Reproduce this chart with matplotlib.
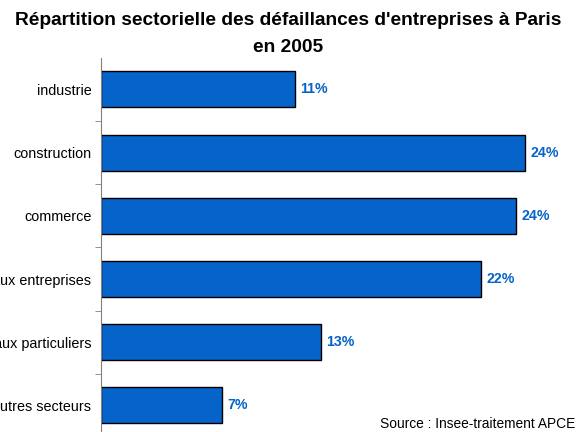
import numpy as np
import matplotlib.pyplot as plt
from matplotlib.ticker import FixedLocator

plt.rcParams['font.family'] = ['Liberation Sans', 'DejaVu Sans']

secteurs = ["industrie", "construction", "commerce", "services aux entreprises",
            "services aux particuliers", "autres secteurs"]
parts = [11.0, 24.1, 23.6, 21.6, 12.5, 6.9]
etiquettes = ["11%", "24%", "24%", "22%", "13%", "7%"]

bleu = "#0563C9"

fig = plt.figure(figsize=(5.77, 4.32), dpi=100)
ax = fig.add_axes([0.175, -0.0116, 0.793, 0.8776])

y = np.arange(len(secteurs))
ax.barh(y, parts, height=0.57, color=bleu, edgecolor="black", linewidth=1)
for yi, v, t in zip(y, parts, etiquettes):
    ax.text(v + 0.3, yi, t, va="center", ha="left", color=bleu,
            fontsize=10.2, fontweight="bold")

ax.set_xlim(0, 26)
ax.set_ylim(len(secteurs) - 0.5, -0.5)
ax.set_yticks(y)
ax.set_yticklabels(secteurs, fontsize=10.4)
ax.tick_params(axis="y", which="major", length=0, pad=7)
ax.yaxis.set_minor_locator(FixedLocator(np.arange(0.5, len(secteurs) - 0.5, 1)))
ax.tick_params(axis="y", which="minor", length=4, color="#808080", direction="out")
ax.set_xticks([])
for s in ["top", "right", "bottom"]:
    ax.spines[s].set_visible(False)
ax.spines["left"].set_color("#808080")

fig.text(0.5, 0.972, "Répartition sectorielle des défaillances d'entreprises à Paris\nen 2005",
         ha="center", va="top", fontsize=13.8, fontweight="bold", linespacing=1.75)
fig.text(0.997, 0.003, "Source : Insee-traitement APCE", ha="right", va="bottom", fontsize=9.9)

fig.savefig("out.png", dpi=100)
